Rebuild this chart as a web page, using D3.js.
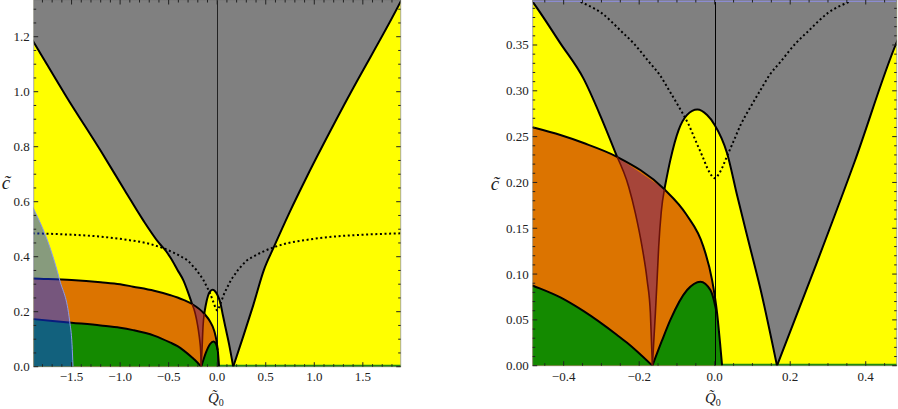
<!DOCTYPE html>
<html><head><meta charset="utf-8">
<script src="https://cdn.jsdelivr.net/npm/d3@7"></script>
<style>body{margin:0;background:#fff;} svg{display:block;}</style>
</head><body>
<svg id="chart" width="898" height="409"></svg>
<script>
// ---- data (Q0, c) ----
const grayLeft = [[-1.95,1.215],[-1.89,1.18],[-1.55,0.98],[-1.2,0.785],[-0.95,0.64],[-0.763,0.533],[-0.6,0.45],[-0.522,0.418],[-0.482,0.397],[-0.409,0.352],[-0.347,0.313],[-0.303,0.273],[-0.2586,0.228],[-0.2278,0.1954],[-0.21,0.1663],[-0.1924,0.1299],[-0.179,0.0935],[-0.1703,0.0572],[-0.165,0]];
const grayRise = [[-0.165,0],[-0.1571,0.0572],[-0.1526,0.0935],[-0.1483,0.1299],[-0.1415,0.168],[-0.1332,0.1925],[-0.1174,0.2246],[-0.0954,0.2573],[-0.0731,0.2737],[-0.046,0.2795],[-0.0201,0.2735],[0,0.2628],[0.0328,0.2319],[0.0593,0.186],[0.09,0.135],[0.121,0.084],[0.165,0]];
const grayRight = [[0.165,0],[0.27,0.112],[0.37,0.222],[0.483,0.354],[0.577,0.43],[0.75,0.565],[0.922,0.69],[1.334,0.97],[1.9,1.335],[1.95,1.37]];
const orangeTop = [[-1.95,0.322],[-1.89,0.321],[-1.5,0.315],[-1.2,0.307],[-1.0,0.3],[-0.866,0.291],[-0.65,0.276],[-0.481,0.26],[-0.4087,0.2517],[-0.347,0.243],[-0.2586,0.228],[-0.1332,0.1925],[-0.075,0.165],[-0.03,0.13],[-0.007,0.0936],[0.0064,0.0572],[0.0151,0.0207],[0.0196,0]];
const greenLeft = [[-1.95,0.175],[-1.89,0.173],[-1.5,0.16],[-1.2,0.15],[-1.0,0.142],[-0.866,0.133],[-0.65,0.113],[-0.481,0.0873],[-0.4087,0.0745],[-0.347,0.0595],[-0.2586,0.0335],[-0.232,0.025],[-0.165,0]];
const greenHump = [[-0.165,0],[-0.14,0.027],[-0.1174,0.05],[-0.0731,0.0826],[-0.0379,0.0917],[-0.0114,0.0826],[0.0018,0.0644],[0.004,0.06]];
const dotted = [[-1.9,0.485],[-1.5,0.48],[-1.2,0.473],[-0.9,0.46],[-0.7,0.447],[-0.55,0.43],[-0.45,0.415],[-0.36,0.398],[-0.3,0.385],[-0.245,0.364],[-0.215,0.352],[-0.175,0.332],[-0.145,0.317],[-0.12,0.3],[-0.09,0.279],[-0.07,0.264],[-0.05,0.245],[-0.033,0.229],[-0.015,0.212],[0,0.2046],[0.015,0.212],[0.033,0.229],[0.05,0.245],[0.07,0.264],[0.09,0.279],[0.12,0.3],[0.145,0.317],[0.175,0.332],[0.215,0.352],[0.245,0.364],[0.3,0.385],[0.36,0.398],[0.45,0.415],[0.55,0.43],[0.7,0.447],[0.9,0.46],[1.2,0.473],[1.5,0.48],[1.9,0.485]];
const blueEdge = [[-1.95,0.62],[-1.893,0.576],[-1.8,0.505],[-1.725,0.436],[-1.622,0.315],[-1.519,0.164],[-1.495,0.08],[-1.485,0]];
const greenBottomStart = 0.0196;

const leftXTicks = [-1.5,-1.0,-0.5,0.0,0.5,1.0,1.5];
const leftYTicks = [0.0,0.2,0.4,0.6,0.8,1.0,1.2];
const rightXTicks = [-0.4,-0.2,0.0,0.2,0.4];
const rightYTicks = [0.00,0.05,0.10,0.15,0.20,0.25,0.30,0.35];

const panels = [
  {id:'L', xd:[-1.89,1.89], yd:[0,1.3335], px:[33.7,400.7], py:[0,366.7],
   xt:leftXTicks, xminor:0.1, xfmt:d3.format('.1f'), yt:leftYTicks, yminor:0.05, yfmt:d3.format('.1f'),
   blue:true, ctitle:[6,189], qtitle:[208,403]},
  {id:'R', xd:[-0.482,0.482], yd:[0,0.3991], px:[532.7,896.7], py:[0,365.7],
   xt:rightXTicks, xminor:0.05, xfmt:d3.format('.1f'), yt:rightYTicks, yminor:0.01, yfmt:d3.format('.2f'),
   blue:false, ctitle:[495,190], qtitle:[705,403]}
];

const svg = d3.select('#chart');
const minus = s => s.replace('-', '\u2212');
const serif = '"Liberation Serif", "DejaVu Serif", serif';

panels.forEach(P => {
  const x = d3.scaleLinear().domain(P.xd).range(P.px);
  const y = d3.scaleLinear().domain(P.yd).range([P.py[1], P.py[0]]);
  const line = d3.line().x(d => x(d[0])).y(d => y(d[1])).curve(d3.curveMonotoneX);
  const seg = pts => line(pts).replace(/^M/, 'L');
  const clipId = 'clip' + P.id;
  svg.append('clipPath').attr('id', clipId).append('rect')
    .attr('x', P.px[0]).attr('y', P.py[0]).attr('width', P.px[1]-P.px[0]).attr('height', P.py[1]-P.py[0]);
  const g = svg.append('g').attr('clip-path', `url(#${clipId})`);

  g.append('rect').attr('x', P.px[0]).attr('y', P.py[0]).attr('width', P.px[1]-P.px[0]).attr('height', P.py[1]-P.py[0]).attr('fill', '#ffff00');

  g.append('path').attr('fill', '#808080')
    .attr('d', `M${x(-2.2)},${y(3)}` + seg(grayLeft) + seg(grayRise.slice(1)) + seg(grayRight.slice(1)) + `L${x(2.2)},${y(3)}Z`);
  g.append('path').attr('fill', '#dc7400')
    .attr('d', `M${x(-1.95)},${y(0)}` + seg(orangeTop) + 'Z');
  const orangeTail = orangeTop.filter(p => p[0] > 0.005);
  g.append('path').attr('fill', '#148a00')
    .attr('d', `M${x(-1.95)},${y(0)}` + seg(greenLeft) + seg(greenHump.slice(1)) + seg(orangeTail) + 'Z');
  const gLlow = grayLeft.filter(p => p[0] >= -0.2586);
  const gRlow = grayRise.filter(p => p[0] <= -0.1332);
  const oSeg = orangeTop.filter(p => p[0] >= -0.2586 && p[0] <= -0.1332).slice().reverse();
  g.append('path').attr('fill', '#a6453a')
    .attr('d', line(gLlow) + seg(gRlow.slice(1)) + seg(oSeg) + 'Z');

  g.append('line').attr('x1', x(greenBottomStart)).attr('x2', x(2)).attr('y1', y(0)).attr('y2', y(0))
    .attr('stroke', '#1f8a10').attr('stroke-width', 4);

  g.append('line').attr('x1', Math.round(x(0)) + 0.5).attr('x2', Math.round(x(0)) + 0.5).attr('y1', y(P.yd[1])).attr('y2', y(0))
    .attr('stroke', P.id === 'L' ? '#222' : '#000').attr('stroke-width', 1);

  const stroke = (pts, color, w) => g.append('path').attr('d', line(pts)).attr('fill', 'none')
    .attr('stroke', color).attr('stroke-width', w).attr('stroke-linejoin', 'round');
  stroke(grayLeft.filter(p => p[0] <= -0.2586), '#000', 2);
  stroke(grayRise.filter(p => p[0] >= -0.1332), '#000', 2);
  stroke(grayRight, '#000', 2);
  stroke(orangeTop, '#000', 2);
  stroke(greenLeft, '#000', 2);
  stroke(greenHump, '#000', 2);
  stroke(gLlow, '#6a1208', 1.6);
  stroke(gRlow, '#6a1208', 1.6);
  stroke(dotted, '#000', 2).attr('stroke-dasharray', '2,2.6');

  if (P.blue) {
    g.append('path').attr('fill', 'rgba(15,55,250,0.5)')
      .attr('d', line(blueEdge) + `L${x(-2.2)},${y(0)}L${x(-2.2)},${y(0.62)}Z`);
    g.append('path').attr('d', line(blueEdge)).attr('fill', 'none').attr('stroke', '#8a9ae8').attr('stroke-width', 1);
  } else {
    g.append('line').attr('x1', P.px[0]).attr('x2', P.px[1]).attr('y1', P.py[0] + 1).attr('y2', P.py[0] + 1)
      .attr('stroke', '#8c8cd0').attr('stroke-width', 2);
  }

  svg.append('rect').attr('x', P.px[0]).attr('y', P.py[0] + 0.5).attr('width', P.px[1]-P.px[0]).attr('height', P.py[1]-P.py[0]-0.5)
    .attr('fill', 'none').attr('stroke', 'rgba(120,120,120,0.6)').attr('stroke-width', 1);

  const tg = svg.append('g').attr('stroke', '#222').attr('stroke-width', 1);
  const xMinor = d3.range(Math.ceil(P.xd[0] / P.xminor - 1e-9), Math.floor(P.xd[1] / P.xminor + 1e-9) + 1).map(k => k * P.xminor);
  const yMinor = d3.range(0, Math.floor(P.yd[1] / P.yminor + 1e-9) + 1).map(k => k * P.yminor);
  const isMajor = (v, arr) => arr.some(t => Math.abs(t - v) < 1e-6);
  xMinor.forEach(v => {
    const L = isMajor(v, P.xt) ? 4.5 : 2.5, xx = x(v);
    tg.append('line').attr('x1', xx).attr('x2', xx).attr('y1', P.py[1]).attr('y2', P.py[1] - L);
    tg.append('line').attr('x1', xx).attr('x2', xx).attr('y1', P.py[0]).attr('y2', P.py[0] + L);
  });
  yMinor.forEach(v => {
    const L = isMajor(v, P.yt) ? 4.5 : 2.5, yy = y(v);
    tg.append('line').attr('x1', P.px[0]).attr('x2', P.px[0] + L).attr('y1', yy).attr('y2', yy);
    tg.append('line').attr('x1', P.px[1]).attr('x2', P.px[1] - L).attr('y1', yy).attr('y2', yy);
  });

  const lab = svg.append('g').attr('font-family', serif).attr('font-size', 13).attr('fill', '#222');
  P.xt.forEach(v => lab.append('text').attr('x', x(v)).attr('y', 380.5).attr('text-anchor', 'middle').text(minus(P.xfmt(v))));
  P.yt.forEach(v => lab.append('text').attr('x', P.px[0] - 4).attr('y', y(v) + 4.5).attr('text-anchor', 'end').text(P.yfmt(v)));

  svg.append('text').attr('x', P.ctitle[0]).attr('y', P.ctitle[1]).attr('text-anchor', 'middle')
    .attr('font-family', serif).attr('font-style', 'italic').attr('font-size', 19).attr('fill', '#222')
    .text('c\u0303');
  const qt = svg.append('text').attr('x', P.qtitle[0]).attr('y', P.qtitle[1])
    .attr('font-family', serif).attr('font-size', 15).attr('fill', '#222');
  qt.append('tspan').attr('font-style', 'italic').text('Q\u0303');
  qt.append('tspan').attr('font-size', 10).attr('dy', 3).text('0');
});
</script>
</body></html>
